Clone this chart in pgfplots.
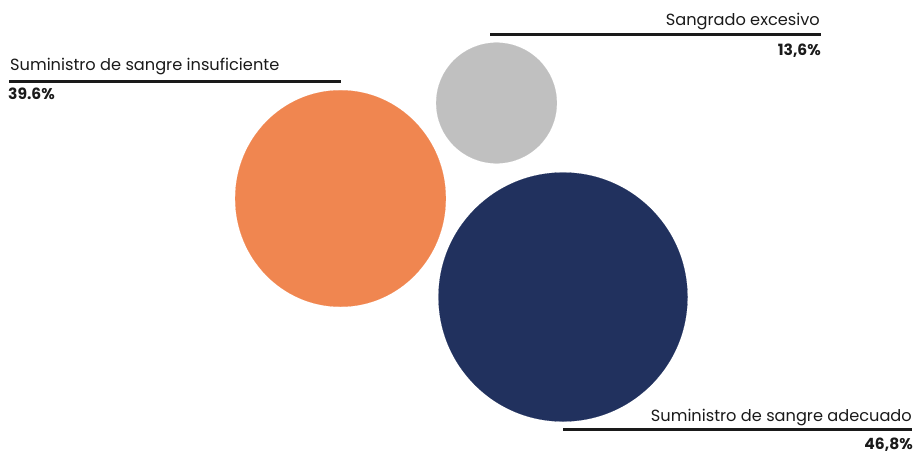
\documentclass[border=0pt]{standalone}
\usepackage{pgfplots}
\pgfplotsset{compat=1.18}
\usepackage{fontspec}
\setmainfont{Poppins}
\definecolor{corange}{HTML}{F08650}
\definecolor{cgray}{HTML}{C0C0C0}
\definecolor{cnavy}{HTML}{21315E}
\definecolor{ctext}{HTML}{1A1A1A}
\begin{document}
\begin{tikzpicture}
\useasboundingbox (0,0) rectangle (917bp,453bp);
\begin{axis}[
  at={(0,0)}, anchor=south west,
  scale only axis, width=917bp, height=453bp,
  xmin=0, xmax=917, ymin=0, ymax=453, y dir=reverse,
  hide axis, clip=false,
]
% bubbles: centre (pixels), radius
\addplot[only marks, mark=*, color=corange, mark size=105.3bp, mark options={line width=0.1bp, yscale=1.028}] coordinates {(340.5,198.5)};
\addplot[only marks, mark=*, color=cgray, mark size=60.3bp, mark options={line width=0.1bp}] coordinates {(496.5,103)};
\addplot[only marks, mark=*, color=cnavy, mark size=124.5bp, mark options={line width=0.1bp}] coordinates {(563,297)};
% leader lines
\addplot[ctext, line width=3bp, mark=none] coordinates {(9,82) (341,82)};
\addplot[ctext, line width=3bp, mark=none] coordinates {(490,35) (821,35)};
\addplot[ctext, line width=3bp, mark=none] coordinates {(563,429) (912,429)};
% labels
\node[anchor=base west, inner sep=0pt, font=\fontsize{16.2bp}{19bp}\selectfont, text=ctext] at (axis cs:10,71) {Suministro de sangre insuficiente};
\node[anchor=base west, inner sep=0pt, font=\bfseries\fontsize{15.5bp}{18bp}\selectfont, text=ctext] at (axis cs:8,100) {39.6\%};
\node[anchor=base east, inner sep=0pt, font=\fontsize{16.2bp}{19bp}\selectfont, text=ctext] at (axis cs:820,26) {Sangrado excesivo};
\node[anchor=base east, inner sep=0pt, font=\bfseries\fontsize{15.5bp}{18bp}\selectfont, text=ctext] at (axis cs:821,56) {13,6\%};
\node[anchor=base east, inner sep=0pt, font=\fontsize{16.2bp}{19bp}\selectfont, text=ctext] at (axis cs:912,421) {Suministro de sangre adecuado};
\node[anchor=base east, inner sep=0pt, font=\bfseries\fontsize{15.5bp}{18bp}\selectfont, text=ctext] at (axis cs:913,449) {46,8\%};
\end{axis}
\end{tikzpicture}
\end{document}
